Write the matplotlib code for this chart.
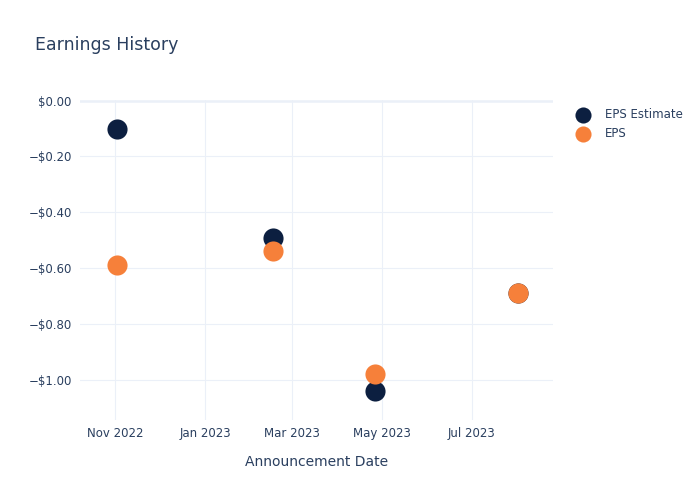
import matplotlib
matplotlib.use("Agg")
import matplotlib.pyplot as plt
import matplotlib.dates as mdates
import numpy as np
import pandas as pd

# data
dates = pd.to_datetime(["2022-11-02", "2023-02-16", "2023-04-26", "2023-08-01"])
eps_estimate = [-0.10, -0.49, -1.04, -0.69]
eps_actual = [-0.59, -0.54, -0.98, -0.69]

y_ticks = [0.0, -0.2, -0.4, -0.6, -0.8, -1.0]
x_ticks = pd.to_datetime(["2022-11-01", "2023-01-01", "2023-03-01", "2023-05-01", "2023-07-01"])

text_color = "#2a3f5f"
grid_color = "#ebf0f8"
navy = "#0c1f40"
orange = "#f6803a"

plt.rcParams["font.family"] = ["DejaVu Sans"]

fig = plt.figure(figsize=(7, 5), dpi=100)
ax = fig.add_axes([80 / 700, 1 - 420 / 500, (553 - 80) / 700, 320 / 500])

ax.scatter(dates, eps_estimate, s=210, color=navy, label="EPS Estimate", zorder=3, linewidths=0)
ax.scatter(dates, eps_actual, s=210, color=orange, label="EPS", zorder=4, linewidths=0)

ax.set_xlim(pd.Timestamp("2022-10-08"), pd.Timestamp("2023-08-25"))
ax.set_ylim(-1.143, 0.002)

ax.set_xticks(x_ticks)
ax.xaxis.set_major_formatter(mdates.DateFormatter("%b %Y"))


def money(v):
    if abs(v) < 1e-9:
        return "$0.00"
    return "\u2212${:.2f}".format(abs(v))


ax.set_yticks(y_ticks)
ax.set_yticklabels([money(v) for v in y_ticks])

ax.grid(True, color=grid_color, linewidth=0.8, zorder=0)
ax.axhline(0, color=grid_color, linewidth=1.8, zorder=1)
ax.set_axisbelow(True)
for sp in ax.spines.values():
    sp.set_visible(False)
ax.tick_params(length=0, labelsize=8.5, colors=text_color)
ax.tick_params(axis="y", pad=6)
ax.tick_params(axis="x", pad=5)

ax.set_xlabel("Announcement Date", fontsize=10, color=text_color, labelpad=11)

fig.text(35 / 700, 1 - 45 / 500, "Earnings History", fontsize=12.5, color=text_color, va="center")

leg = ax.legend(loc="upper left", bbox_to_anchor=(565 / 700, 1 - 102 / 500),
                bbox_transform=fig.transFigure, frameon=False, fontsize=8.5,
                markerscale=0.8, handletextpad=0.9, labelspacing=0.55, borderpad=0)
for t in leg.get_texts():
    t.set_color(text_color)

fig.savefig("out.png", dpi=100)
